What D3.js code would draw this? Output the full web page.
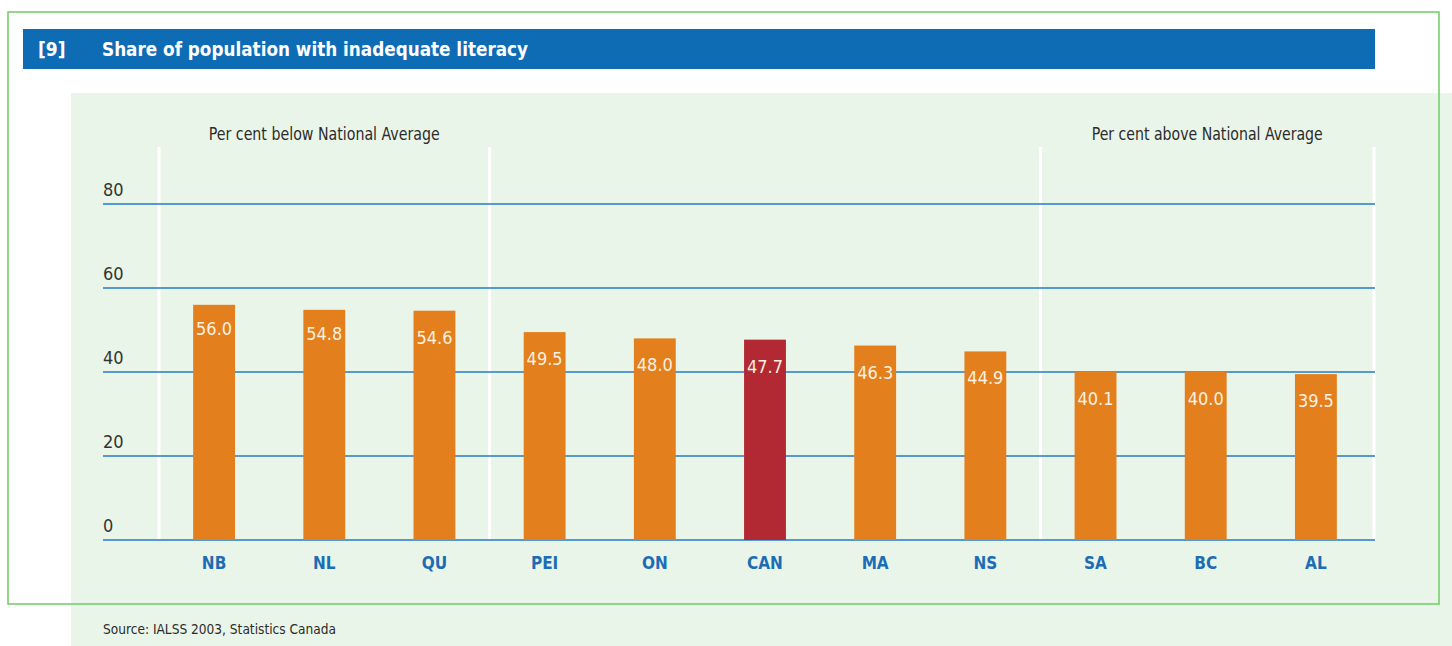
<!DOCTYPE html>
<html>
<head>
<meta charset="utf-8">
<title>Share of population with inadequate literacy</title>
<script src="https://d3js.org/d3.v7.min.js"></script>
<style>
  body { margin: 0; background: #fff; }
  text { font-family: "DejaVu Sans Condensed", "Liberation Sans Narrow", "Liberation Sans", sans-serif; font-stretch: condensed; }
</style>
</head>
<body>
<svg width="1452" height="646"></svg>
<script>
// chart data
var categories = ["NB", "NL", "QU", "PEI", "ON", "CAN", "MA", "NS", "SA", "BC", "AL"];
var values = [56.0, 54.8, 54.6, 49.5, 48.0, 47.7, 46.3, 44.9, 40.1, 40.0, 39.5];
var highlight = ["CAN"];
var yTicks = [0, 20, 40, 60, 80];
// first category of each group, and the group headings
var groupStarts = ["NB", "PEI", "SA"];
var groupLabels = [
  { from: "NB", to: "QU", text: "Per cent below National Average" },
  { from: "SA", to: "AL", text: "Per cent above National Average" }
];

var svg = d3.select("svg");

// light green panel
svg.append("rect")
  .attr("x", 71).attr("y", 93)
  .attr("width", 1381).attr("height", 553)
  .attr("fill", "#eaf5e9");

// outer green frame
svg.append("rect")
  .attr("x", 8).attr("y", 12)
  .attr("width", 1431).attr("height", 592)
  .attr("fill", "none")
  .attr("stroke", "#6fcc64")
  .attr("stroke-width", 1.5);

// title bar
svg.append("rect")
  .attr("x", 23).attr("y", 29)
  .attr("width", 1352).attr("height", 40)
  .attr("fill", "#0e6cb5");
svg.append("text")
  .attr("x", 38).attr("y", 56)
  .attr("fill", "#fff")
  .style("font-size", "19px").style("font-weight", "bold")
  .text("[9]");
svg.append("text")
  .attr("x", 102).attr("y", 56)
  .attr("fill", "#fff")
  .attr("textLength", 426).attr("lengthAdjust", "spacingAndGlyphs")
  .style("font-size", "19px").style("font-weight", "bold")
  .text("Share of population with inadequate literacy");

var x = d3.scaleBand()
  .domain(categories)
  .range([159, 1371])
  .paddingInner(0.62)
  .paddingOuter(0.31);

var y = d3.scaleLinear()
  .domain([0, 80])
  .range([540, 204]);

var gap = (x.step() - x.bandwidth()) / 2;
var dividers = groupStarts.map(function(c) { return x(c) - gap; });
dividers.push(1374);

// white vertical separators
svg.selectAll(".divider")
  .data(dividers)
  .enter().append("line")
    .attr("class", "divider")
    .attr("x1", function(d) { return d; })
    .attr("x2", function(d) { return d; })
    .attr("y1", 147).attr("y2", 540)
    .attr("stroke", "#fff")
    .attr("stroke-width", 3);

// group headings
svg.selectAll(".grp")
  .data(groupLabels)
  .enter().append("text")
    .attr("class", "grp")
    .attr("x", function(d, i) { return i === 0 ? (dividers[0] + dividers[1]) / 2 : (dividers[2] + dividers[3]) / 2; })
    .attr("y", 140)
    .attr("text-anchor", "middle")
    .attr("fill", "#2b2b2b")
    .attr("textLength", 231).attr("lengthAdjust", "spacingAndGlyphs")
    .style("font-size", "17px")
    .text(function(d) { return d.text; });

// gridlines + tick labels
svg.selectAll(".grid")
  .data(yTicks)
  .enter().append("line")
    .attr("class", "grid")
    .attr("x1", 103).attr("x2", 1375)
    .attr("y1", function(d) { return y(d); })
    .attr("y2", function(d) { return y(d); })
    .attr("stroke", "#2478c8")
    .attr("stroke-width", 1.3);

svg.selectAll(".tick")
  .data(yTicks)
  .enter().append("text")
    .attr("class", "tick")
    .attr("x", 103)
    .attr("y", function(d) { return y(d) - 8; })
    .attr("fill", "#333")
    .style("font-size", "18px")
    .text(function(d) { return d; });

// bars
svg.selectAll(".bar")
  .data(values)
  .enter().append("rect")
    .attr("class", "bar")
    .attr("x", function(d, i) { return x(categories[i]); })
    .attr("y", function(d) { return y(d); })
    .attr("width", x.bandwidth())
    .attr("height", function(d) { return y(0) - y(d); })
    .attr("fill", function(d, i) { return highlight.indexOf(categories[i]) >= 0 ? "#b22833" : "#e37f1c"; });

svg.selectAll(".val")
  .data(values)
  .enter().append("text")
    .attr("class", "val")
    .attr("x", function(d, i) { return x(categories[i]) + x.bandwidth() / 2; })
    .attr("y", function(d, i) { return y(d) + (i < 2 ? 30 : 33); })
    .attr("text-anchor", "middle")
    .attr("fill", "#fdf1e2")
    .style("font-size", "18px")
    .text(function(d) { return d3.format(".1f")(d); });

// category labels
svg.selectAll(".cat")
  .data(categories)
  .enter().append("text")
    .attr("class", "cat")
    .attr("x", function(d) { return x(d) + x.bandwidth() / 2; })
    .attr("y", 569)
    .attr("text-anchor", "middle")
    .attr("fill", "#1c6db5")
    .style("font-size", "17px").style("font-weight", "bold")
    .text(function(d) { return d; });

// source
svg.append("text")
  .attr("x", 103).attr("y", 634)
  .attr("fill", "#2b2b2b")
  .attr("textLength", 233).attr("lengthAdjust", "spacingAndGlyphs")
  .style("font-size", "14px")
  .text("Source: IALSS 2003, Statistics Canada");
</script>
</body>
</html>
